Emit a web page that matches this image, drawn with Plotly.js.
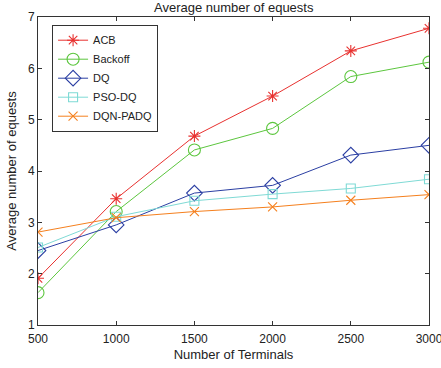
<!DOCTYPE html>
<html><head><meta charset="utf-8">
<script src="https://cdn.plot.ly/plotly-3.0.1.min.js"></script>
<style>html,body{margin:0;padding:0;background:#fff;}#chart{width:441px;height:368px;}</style>
</head><body><div id="chart"></div>
<script>
const terminals = [500, 1000, 1500, 2000, 2500, 3000];
const acb = [1.91, 3.46, 4.68, 5.46, 6.34, 6.78];
const backoff = [1.63, 3.21, 4.41, 4.83, 5.84, 6.12];
const dq = [2.45, 2.95, 3.57, 3.72, 4.31, 4.50];
const psodq = [2.51, 3.11, 3.42, 3.55, 3.66, 3.84];
const dqnpadq = [2.81, 3.09, 3.21, 3.30, 3.43, 3.54];
const names = ['ACB', 'Backoff', 'DQ', 'PSO-DQ', 'DQN-PADQ'];
const xTicks = [500, 1000, 1500, 2000, 2500, 3000];
const yTicks = [1, 2, 3, 4, 5, 6, 7];

const series = [acb, backoff, dq, psodq, dqnpadq];
const colors = ['#e8312f', '#5cc63e', '#2b3fa3', '#7fdad5', '#f5801e'];
const symbols = ['asterisk-open', 'circle-open', 'diamond-open', 'square-open', 'x-thin-open'];
const sizes = [10, 12, 12, 9, 9];

const traces = series.map((s, i) => ({
  x: terminals, y: s, name: names[i], type: 'scatter', mode: 'lines+markers',
  line: {color: colors[i], width: 1},
  marker: {symbol: symbols[i], size: sizes[i], color: colors[i], line: {color: colors[i], width: 1.1}}
}));

const font = {family: 'Liberation Sans, Arial, sans-serif', color: '#222'};
const layout = {
  width: 441, height: 368,
  margin: {l: 38, r: 12, t: 17, b: 43},
  paper_bgcolor: '#fff', plot_bgcolor: '#fff',
  font: Object.assign({size: 12}, font),
  title: {text: 'Average number of equests', font: {size: 13, family: font.family, color: '#222'}, x: 0.53, xanchor: 'center', y: 0.992, yanchor: 'top'},
  xaxis: {
    range: [500, 3000], tickvals: xTicks, ticktext: xTicks.map(String),
    ticks: 'inside', ticklen: 4, tickcolor: '#333', mirror: 'ticks', showline: true, linecolor: '#333', linewidth: 1,
    showgrid: false, zeroline: false, ticklabeloverflow: 'allow', ticklabelstandoff: 3,
    title: {text: 'Number of Terminals', font: {size: 13}, standoff: 4},
    tickfont: {size: 12}
  },
  yaxis: {
    range: [1, 7], tickvals: yTicks, ticktext: yTicks.map(String),
    ticks: 'inside', ticklen: 4, tickcolor: '#333', mirror: 'ticks', showline: true, linecolor: '#333', linewidth: 1,
    showgrid: false, zeroline: false,
    title: {text: 'Average number of equests', font: {size: 13}, standoff: 8},
    tickfont: {size: 12}
  },
  showlegend: true,
  legend: {
    x: 0.036, y: 0.975, xanchor: 'left', yanchor: 'top',
    bgcolor: '#fff', bordercolor: '#333', borderwidth: 1,
    font: {size: 11}, tracegroupgap: 0, itemwidth: 30
  }
};
Plotly.newPlot('chart', traces, layout, {displayModeBar: false, staticPlot: true});
</script>
</body></html>
